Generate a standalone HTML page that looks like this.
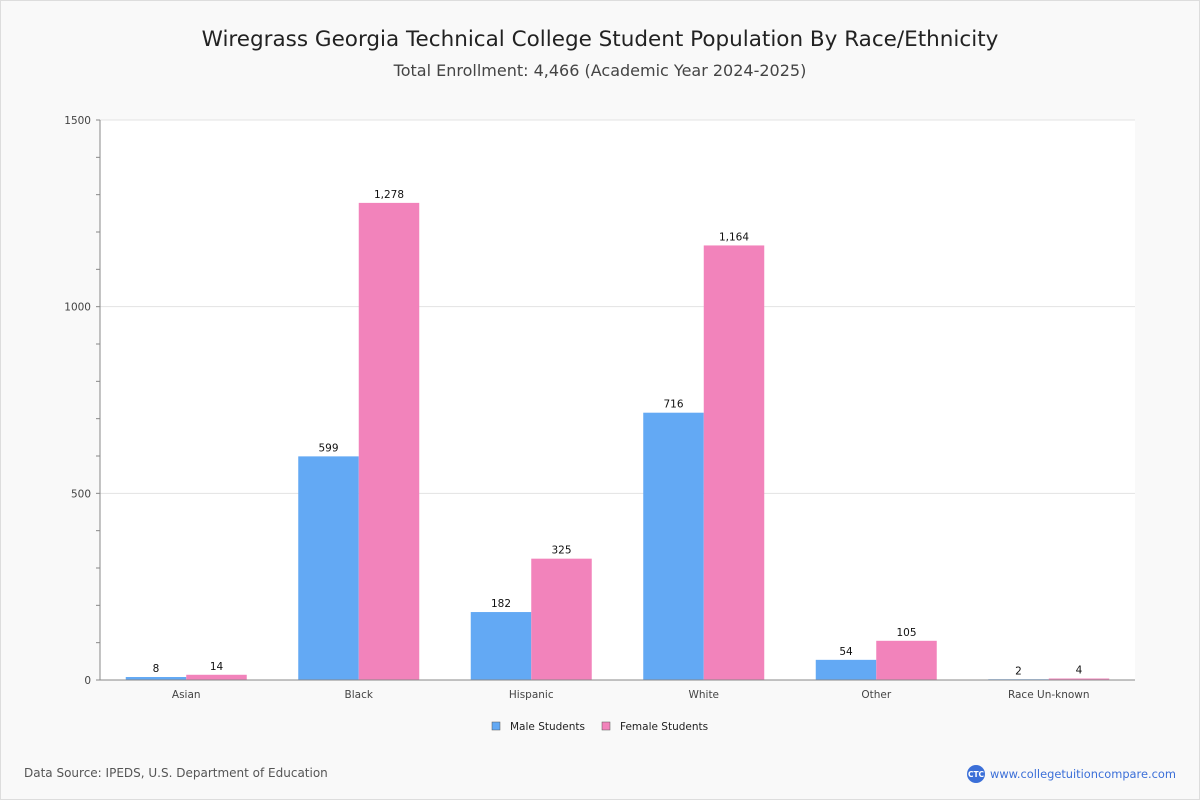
<!DOCTYPE html>
<html><head><meta charset="utf-8"><style>
body{margin:0;background:#f9f9f9;font-family:"DejaVu Sans","Liberation Sans",sans-serif;}
#wrap{position:relative;width:1198px;height:798px;border:1px solid #ddd;background:#f9f9f9;}
</style></head><body>
<div id="wrap">
<svg id="chart" width="1200" height="800" style="position:absolute;left:-1px;top:-1px">
<text x="600" y="46" text-anchor="middle" font-size="21.5" fill="#222">Wiregrass Georgia Technical College Student Population By Race/Ethnicity</text>
<text x="600" y="76" text-anchor="middle" font-size="16" fill="#444">Total Enrollment: 4,466 (Academic Year 2024-2025)</text>
<rect x="100" y="120" width="1035" height="560" fill="#fff"/>
<g id="grid"></g><g id="bars"></g><g id="axes"></g>
<g>
<rect x="492" y="722" width="8" height="8" fill="#63a9f4" stroke="#555" stroke-width="0.5"/>
<text x="510" y="730" font-size="10.5" fill="#222">Male Students</text>
<rect x="602" y="722" width="8" height="8" fill="#f283bb" stroke="#555" stroke-width="0.5"/>
<text x="620" y="730" font-size="10.5" fill="#222">Female Students</text>
</g>
<text x="24" y="777" font-size="12" fill="#555">Data Source: IPEDS, U.S. Department of Education</text>
<g>
<circle cx="976" cy="774" r="9" fill="#3b6fd8"/>
<text x="976" y="777" text-anchor="middle" font-size="7.5" fill="#fff" font-weight="bold">CTC</text>
<text x="990" y="778" font-size="11.4" fill="#3b6fd8">www.collegetuitioncompare.com</text>
</g>
</svg>
</div>
<script>
const categories=["Asian","Black","Hispanic","White","Other","Race Un-known"];
const maleValues=[8,599,182,716,54,2];
const femaleValues=[14,1278,325,1164,105,4];
const yTicks=[0,500,1000,1500];
const NS="http://www.w3.org/2000/svg";
const X0=100,X1=1135,Y0=680,Y1=120,YMAX=1500;
const y=v=>Y0-(v/YMAX)*(Y0-Y1);
const band=(X1-X0)/categories.length;
const xc=i=>X0+band*(i+0.5);
function mk(t,a,p){const e=document.createElementNS(NS,t);for(const k in a)e.setAttribute(k,a[k]);p.appendChild(e);return e;}
const grid=document.getElementById('grid'),bars=document.getElementById('bars'),axes=document.getElementById('axes');
yTicks.forEach(t=>{
 if(t>0){const g=mk('line',{x1:X0,x2:X1,y1:y(t),y2:y(t),stroke:'#e3e3e3'},grid);
 
 }
 const l=mk('text',{x:X0-9,y:y(t)+4,'text-anchor':'end','font-size':10.5,fill:'#444'},axes);l.textContent=t;
 
 
});
for(let v=0;v<=YMAX;v+=100){mk('line',{x1:X0-4,x2:X0,y1:y(v),y2:y(v),stroke:'#888'},axes);}
mk('line',{x1:X0,x2:X0,y1:Y1,y2:Y0,stroke:'#888'},axes);
mk('line',{x1:X0,x2:X1,y1:Y0,y2:Y0,stroke:'#888'},axes);
const bw=60.5;
function fmt(v){return v.toLocaleString('en-US');}
categories.forEach((c,i)=>{
 const cx=xc(i);
 [[maleValues[i],'#63a9f4',cx-bw,'male'],[femaleValues[i],'#f283bb',cx,'female']].forEach(([v,col,x,s])=>{
  const r=mk('rect',{x:x,y:y(v),width:bw,height:Y0-y(v),fill:col},bars);
  
  
  const t=mk('text',{x:x+bw/2,y:y(v)-5,'text-anchor':'middle','font-size':10.5,fill:'#111'},bars);t.textContent=fmt(v);
  
  
 });
 const l=mk('text',{x:cx,y:698,'text-anchor':'middle','font-size':10.5,fill:'#444'},axes);l.textContent=c;
 
 
});
</script>
</body></html>
